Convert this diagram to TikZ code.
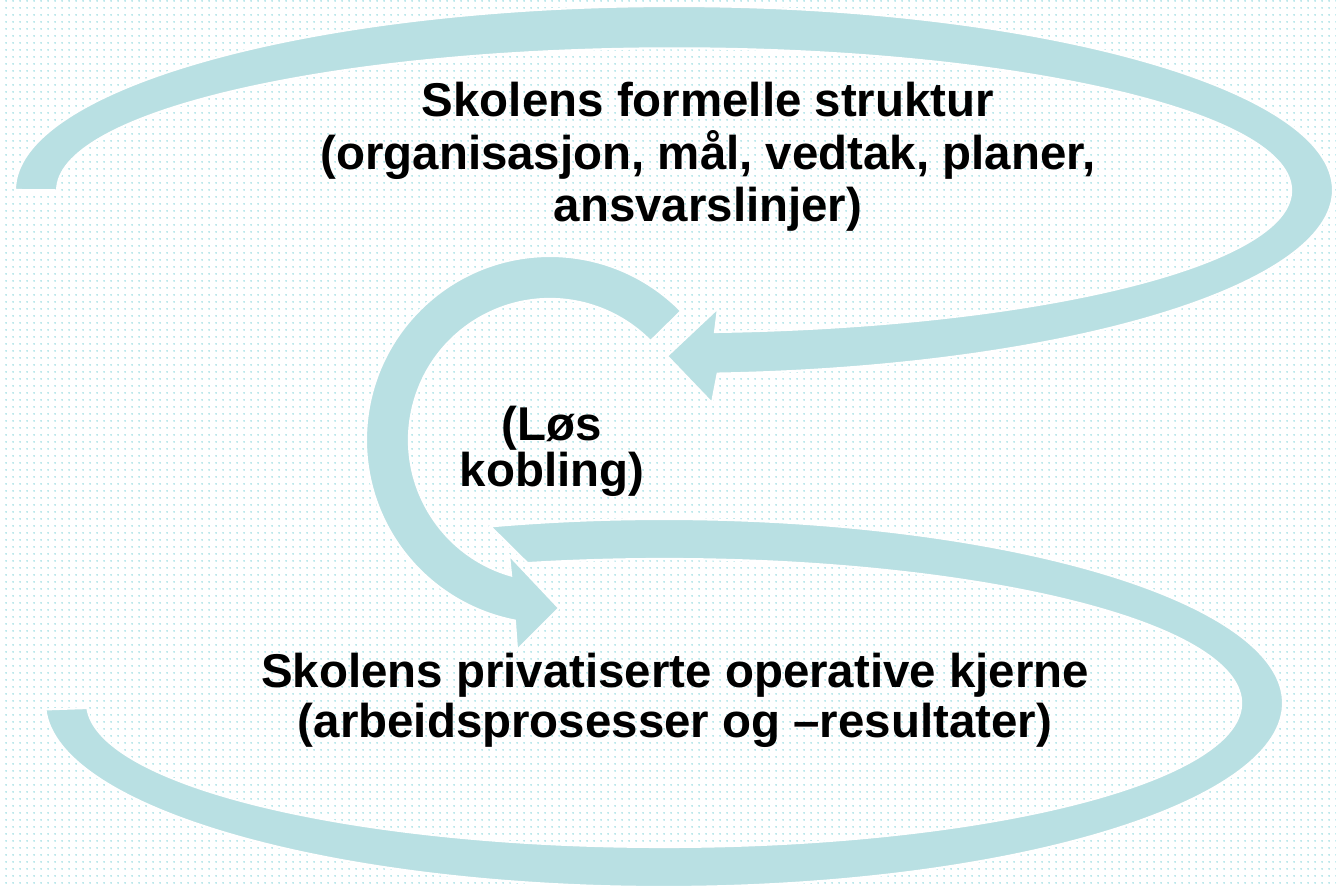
\documentclass[tikz,border=0pt]{standalone}
\usepackage{fontspec}
\setmainfont{Liberation Sans}
\usetikzlibrary{patterns.meta}
\definecolor{bandcyan}{RGB}{185,224,227}
\definecolor{dotcyan}{RGB}{120,208,216}

\begin{document}
\begin{tikzpicture}[x=0.02cm,y=-0.02cm,
    band/.style={fill=bandcyan,draw=white,line width=1.2pt,line join=miter},
    looptext/.style={align=center,inner sep=0pt,font=\bfseries\fontsize{27}{30}\selectfont}]
        \useasboundingbox (0,0) rectangle (1336,889);
        \fill[white] (0,0) rectangle (1336,889);
        \fill[pattern={Dots[distance=4pt,radius=0.5pt]},pattern color=dotcyan] (0,0) rectangle (1336,889);
        % outer loops
        \path[band] (15,190) arc[start angle=180,end angle=446.2,x radius=659,y radius=184]
            -- (712,403) -- (667,356) -- (718,308) -- (715,332)
            arc[start angle=446.2,end angle=180,x radius=617,y radius=142] -- cycle;
        \path[band] (45.4,709.4) arc[start angle=178,end angle=-106.3,x radius=619,y radius=184]
            -- (527.4,563.1)
            arc[start angle=-103.7,end angle=178,x radius=577,y radius=144] -- cycle;
        % inner circle
        \path[band] (681.2,311) arc[start angle=-44.5,end angle=-259,radius=184]
            -- (517,650) -- (559,608) -- (509,555) -- (511.1,575.5)
            arc[start angle=-254,end angle=-44.5,radius=141] -- cycle;
        \node[looptext] at (708,157) (formal) {Skolens formelle struktur\\(organisasjon, mål, vedtak, planer,\\ansvarslinjer)};
        \node[looptext,font=\bfseries\fontsize{27}{24}\selectfont] at (552,451) (loose) {(Løs\\kobling)};
        \node[looptext,font=\bfseries\fontsize{27}{28.5}\selectfont] at (675,700) (core) {Skolens privatiserte operative kjerne\\(arbeidsprosesser og –resultater)};
    \end{tikzpicture}
\end{document}
